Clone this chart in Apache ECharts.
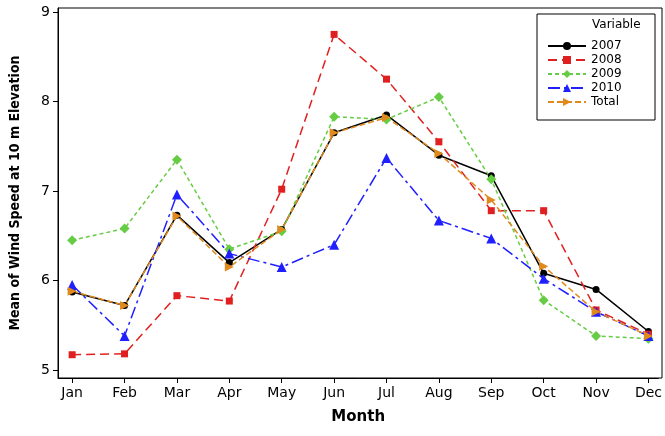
<!DOCTYPE html>
<html><head><meta charset="utf-8">
<script src="https://cdn.jsdelivr.net/npm/echarts@6/dist/echarts.min.js"></script>
<style>html,body{margin:0;background:#fff}#c{width:665px;height:436px}</style>
</head><body><div id="c"></div>
<script>
const months = ['Jan','Feb','Mar','Apr','May','Jun','Jul','Aug','Sep','Oct','Nov','Dec']
const y2007 = [5.87,5.72,6.73,6.2,6.57,7.65,7.85,7.4,7.17,6.08,5.9,5.43]
const y2008 = [5.17,5.18,5.83,5.77,7.02,8.75,8.25,7.55,6.78,6.78,5.67,5.4]
const y2009 = [6.45,6.58,7.35,6.35,6.55,7.83,7.8,8.05,7.13,5.78,5.38,5.35]
const y2010 = [5.95,5.38,6.96,6.3,6.15,6.4,7.37,6.67,6.47,6.02,5.65,5.38]
const total = [5.88,5.72,6.72,6.15,6.57,7.65,7.82,7.42,6.9,6.16,5.65,5.38]
const yTicks = [5,6,7,8,9]

const pts = arr => arr.map((v,i)=>[i,v])
const mk = (name, data, color, symbol, type, size) => ({
  name, type:'line', data:pts(data), symbol, symbolSize:size,
  lineStyle:{ color, width:1.5, type }, itemStyle:{ color }
})
const chart = echarts.init(document.getElementById('c'))
chart.setOption({
  animation:false,
  grid:{ left:58, top:8, right:3, bottom:58 },
  xAxis:{ type:'value', min:-0.27, max:11.19,
    name:'Month', nameLocation:'middle', nameGap:32,
    nameTextStyle:{ fontFamily:'DejaVu Sans', fontWeight:'bold', fontSize:15, color:'#000' },
    axisLine:{ onZero:false, lineStyle:{ color:'#000' } }, splitLine:{ show:false },
    axisTick:{ customValues:months.map((m,i)=>i), lineStyle:{ color:'#000' } },
    axisLabel:{ customValues:months.map((m,i)=>i), formatter:v=>months[v], color:'#000', fontSize:14, fontFamily:'DejaVu Sans', showMinLabel:true, showMaxLabel:true }
  },
  yAxis:{ type:'value', min:4.91, max:9.045,
    name:'Mean of Wind Speed at 10 m Elevation', nameLocation:'middle', nameGap:36,
    nameTextStyle:{ fontFamily:'DejaVu Sans Condensed', fontWeight:'bold', fontSize:14, color:'#000' },
    axisLine:{ show:true, onZero:false, lineStyle:{ color:'#000' } }, splitLine:{ show:false },
    axisTick:{ show:true, customValues:yTicks, lineStyle:{ color:'#000' } },
    axisLabel:{ customValues:yTicks, color:'#000', fontSize:14, fontFamily:'DejaVu Sans' }
  },
  graphic:[
    { type:'rect', shape:{ x:537, y:14, width:118, height:106 }, style:{ fill:'#fff', stroke:'#000', lineWidth:1 }, z:0 },
    { type:'text', left:592, top:19, style:{ text:'Variable', fontSize:12, fontFamily:'DejaVu Sans', fill:'#000' } },
    { type:'rect', shape:{ x:58, y:8, width:604, height:370 }, style:{ fill:'none', stroke:'#000', lineWidth:1 } }
  ],
  legend:{ orient:'vertical', left:542, top:35, itemGap:2, itemWidth:38, itemHeight:10,
    textStyle:{ fontSize:12, fontFamily:'DejaVu Sans', color:'#000' } },
  series:[
    mk('2007', y2007, '#000000', 'circle', 'solid', 7),
    mk('2008', y2008, '#e02020', 'rect', [9,5], 7),
    mk('2009', y2009, '#66cc44', 'diamond', [4,3], 10),
    mk('2010', y2010, '#2020ff', 'triangle', [12,4,3,4], 10),
    mk('Total', total, '#e08a1e', 'path://M0,0L10,5L0,10Z', [6,3], 9)
  ]
})
</script></body></html>
